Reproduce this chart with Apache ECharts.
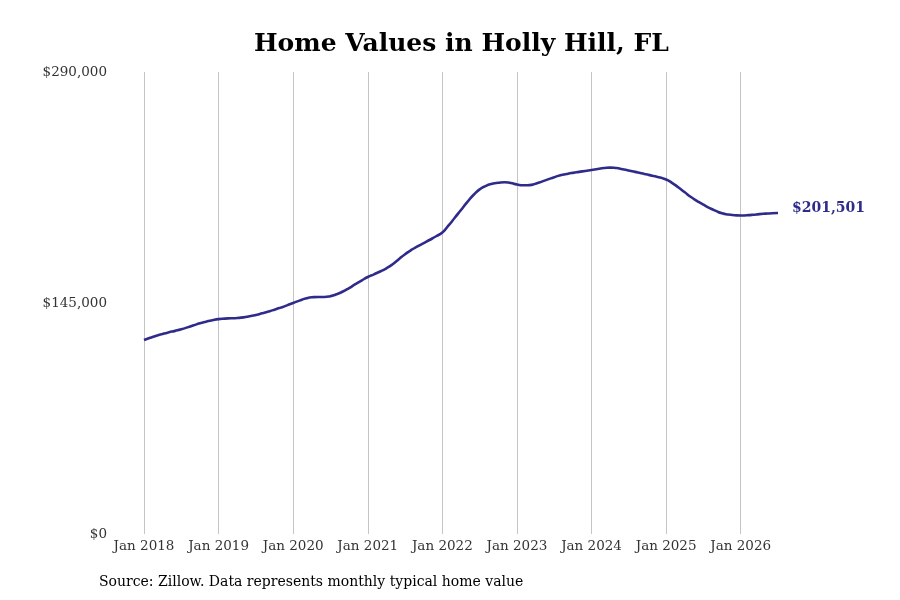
<!DOCTYPE html>
<html>
<head>
<meta charset="utf-8">
<title>Home Values in Holly Hill, FL</title>
<script src="https://cdn.jsdelivr.net/npm/echarts@6/dist/echarts.min.js"></script>
<style>
  html, body { margin: 0; padding: 0; background: #fff; }
  #chart { width: 900px; height: 600px; }
</style>
</head>
<body>
<div id="chart"></div>
<script>
// monthly typical home value, Jan 2018 .. Jul 2026
var years = ['2018', '2019', '2020', '2021', '2022', '2023', '2024', '2025', '2026'];
var monthNames = ['Jan', 'Feb', 'Mar', 'Apr', 'May', 'Jun', 'Jul', 'Aug', 'Sep', 'Oct', 'Nov', 'Dec'];
var yTicks = [0, 145000, 290000];

var v2018 = [121800, 123200, 124500, 125600, 126600, 127500, 128500, 129700, 131000, 132300, 133300, 134200];
var v2019 = [134900, 135200, 135400, 135600, 136000, 136700, 137500, 138500, 139600, 140800, 142100, 143500];
var v2020 = [145000, 146500, 147800, 148600, 148800, 148800, 149300, 150500, 152200, 154400, 156800, 159100];
var v2021 = [161300, 163000, 164800, 166800, 169300, 172500, 175600, 178300, 180500, 182600, 184700, 186900];
var v2022 = [189300, 193700, 198500, 203400, 208300, 212800, 216300, 218500, 219800, 220500, 220800, 220300];
var v2023 = [219400, 218900, 219000, 219900, 221200, 222600, 224000, 225200, 226000, 226700, 227300, 227900];
var v2024 = [228500, 229100, 229700, 230000, 229700, 229000, 228200, 227300, 226400, 225600, 224700, 223700];
var v2025 = [222500, 220300, 217500, 214500, 211500, 209000, 206700, 204600, 202800, 201300, 200500, 200100];
var v2026 = [199900, 200100, 200400, 200800, 201100, 201350, 201501];

var values = [].concat(v2018, v2019, v2020, v2021, v2022, v2023, v2024, v2025, v2026);
var categories = [];
years.forEach(function (y) {
    monthNames.forEach(function (m) {
        if (categories.length < values.length) categories.push(m + ' ' + y);
    });
});

var lineColor = '#2f2b8a';
var isJan = function (idx, val) { return val.indexOf('Jan') === 0; };

var myChart = echarts.init(document.getElementById('chart'));
var option = {
    animation: false,
    backgroundColor: '#fff',
    textStyle: { fontFamily: 'DejaVu Serif' },
    title: {
        text: 'Home Values in Holly Hill, FL',
        left: 249,
        top: 27,
        textStyle: { fontFamily: 'DejaVu Serif', fontWeight: 'bold', fontSize: 25, color: '#000' }
    },
    grid: { left: 144, right: 122, top: 72, bottom: 66 },
    xAxis: {
        type: 'category',
        boundaryGap: false,
        data: categories,
        axisLine: { show: false },
        axisTick: { show: false },
        axisLabel: {
            interval: isJan,
            color: '#333',
            fontSize: 13.5,
            margin: 5,
            fontFamily: 'DejaVu Serif'
        },
        splitLine: {
            show: true,
            interval: isJan,
            lineStyle: { color: '#c4c4c4', width: 1 }
        }
    },
    yAxis: {
        type: 'value',
        min: yTicks[0],
        max: yTicks[2],
        interval: yTicks[1],
        axisLine: { show: false },
        axisTick: { show: false },
        splitLine: { show: false },
        axisLabel: {
            color: '#333',
            fontSize: 13.5,
            margin: 37,
            fontFamily: 'DejaVu Serif',
            formatter: function (v) { return '$' + v.toLocaleString('en-US'); }
        }
    },
    series: [{
        type: 'line',
        data: values,
        smooth: 0.6,
        showSymbol: false,
        lineStyle: { color: lineColor, width: 2.6 },
        endLabel: {
            show: true,
            distance: 14,
            offset: [0, -5],
            color: lineColor,
            fontWeight: 'bold',
            fontSize: 14,
            fontFamily: 'DejaVu Serif',
            formatter: function (p) { return '$' + p.value.toLocaleString('en-US'); }
        }
    }],
    graphic: [{
        type: 'text',
        left: 99,
        top: 575,
        style: {
            text: 'Source: Zillow. Data represents monthly typical home value',
            fontFamily: 'DejaVu Serif',
            fontSize: 14,
            fill: '#000'
        }
    }]
};
myChart.setOption(option);
</script>
</body>
</html>
